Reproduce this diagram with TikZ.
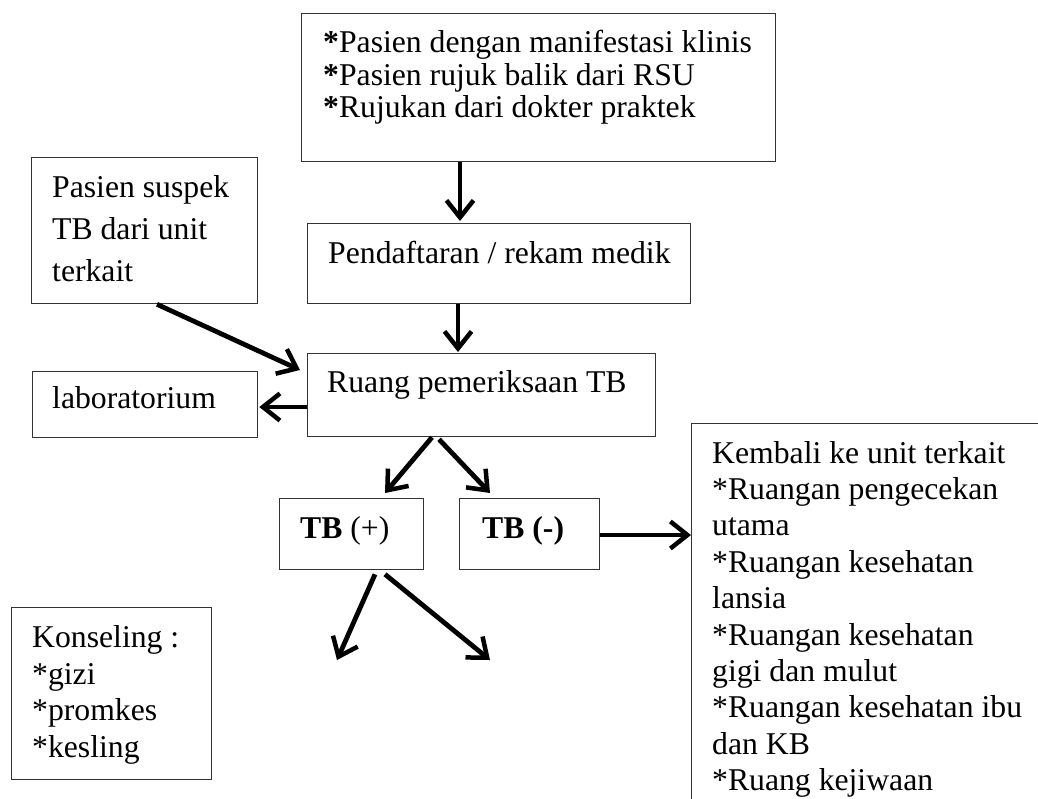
\documentclass[tikz,border=0pt]{standalone}
\usepackage{fontspec}
\setmainfont{Liberation Serif}
\usetikzlibrary{arrows.meta}
\tikzset{
  box/.style={draw=black!80, line width=1.3pt, rectangle, inner sep=0pt, anchor=north west, fill=none},
  arr/.style={line width=4.8pt, -{Straight Barb[length=17pt,width=27pt,line width=4.5pt]}},
  txt/.style={anchor=base west, inner sep=0pt, font=\fontsize{31.7}{38}\selectfont}
}
\begin{document}
\begin{tikzpicture}[x=1pt,y=-1pt]
\useasboundingbox (0,0) rectangle (1038,798);
\clip (0,0) rectangle (1038,798);
% boxes
\node[box, minimum width=474pt, minimum height=148pt] (top) at (301,13) {};
\node[box, minimum width=383pt, minimum height=80pt] (pend) at (307,223) {};
\node[box, minimum width=348pt, minimum height=83pt] (ruang) at (307,353) {};
\node[box, minimum width=226pt, minimum height=146pt] (susp) at (31,157) {};
\node[box, minimum width=225pt, minimum height=66pt] (lab) at (32,371) {};
\node[box, minimum width=144pt, minimum height=71pt] (tbp) at (279,498) {};
\node[box, minimum width=140pt, minimum height=71pt] (tbn) at (459,498) {};
\node[box, minimum width=200pt, minimum height=172pt] (kons) at (11,607) {};
\node[box, minimum width=380pt, minimum height=420pt] (kem) at (691,423) {};
% texts
\node[txt] (t1) at (323,52) {\textbf{*}Pasien dengan manifestasi klinis};
\node[txt] (t2) at (323,85) {\textbf{*}Pasien rujuk balik dari RSU};
\node[txt] (t3) at (323,117) {\textbf{*}Rujukan dari dokter praktek};
\node[txt] (tp) at (328,263) {Pendaftaran / rekam medik};
\node[txt] (tr) at (327,392) {Ruang pemeriksaan TB};
\node[txt] (ts1) at (52,197) {Pasien suspek};
\node[txt] (ts2) at (52,239) {TB dari unit};
\node[txt] (ts3) at (52,281) {terkait};
\node[txt] (tl) at (52,408) {laboratorium};
\node[txt] (ttp) at (300,538) {\textbf{TB} (+)};
\node[txt] (ttn) at (482,538) {\textbf{TB (-)}};
\node[txt] (tk1) at (32,647) {Konseling :};
\node[txt] (tk2) at (32,684) {*gizi};
\node[txt] (tk3) at (32,720) {*promkes};
\node[txt] (tk4) at (32,757) {*kesling};
\foreach \s [count=\i from 0] in {Kembali ke unit terkait,*Ruangan pengecekan,utama,*Ruangan kesehatan,lansia,*Ruangan kesehatan,gigi dan mulut,*Ruangan kesehatan ibu,dan KB,*Ruang kejiwaan}
  \node[txt] (tb\i) at (712,463+36.4*\i) {\s};
% free ends
\coordinate (e1) at (337,660);
\coordinate (e2) at (490,660);
% connectors
\draw[arr] ([xshift=159pt]top.south west) -- ([xshift=153pt,yshift=2pt]pend.north west);
\draw[arr] ([xshift=151pt]pend.south west) -- ([xshift=151pt,yshift=1pt]ruang.north west);
\draw[arr] ([xshift=126pt]susp.south west) -- ([xshift=-7pt,yshift=-17pt]ruang.north west);
\draw[arr] ([yshift=-54pt]ruang.north west) -- ([xshift=1pt,yshift=-36pt]lab.north east);
\draw[arr] ([xshift=125pt]ruang.south west) -- ([xshift=106pt,yshift=5pt]tbp.north west);
\draw[arr] ([xshift=132pt,yshift=-2pt]ruang.south west) -- ([xshift=31pt,yshift=5pt]tbn.north west);
\draw[arr] ([xshift=96pt,yshift=-4pt]tbp.south west) -- (e1);
\draw[arr] ([xshift=106pt,yshift=-4pt]tbp.south west) -- (e2);
\draw[arr] ([yshift=-37pt]tbn.north east) -- ([yshift=-112pt]kem.north west);
\end{tikzpicture}
\end{document}
